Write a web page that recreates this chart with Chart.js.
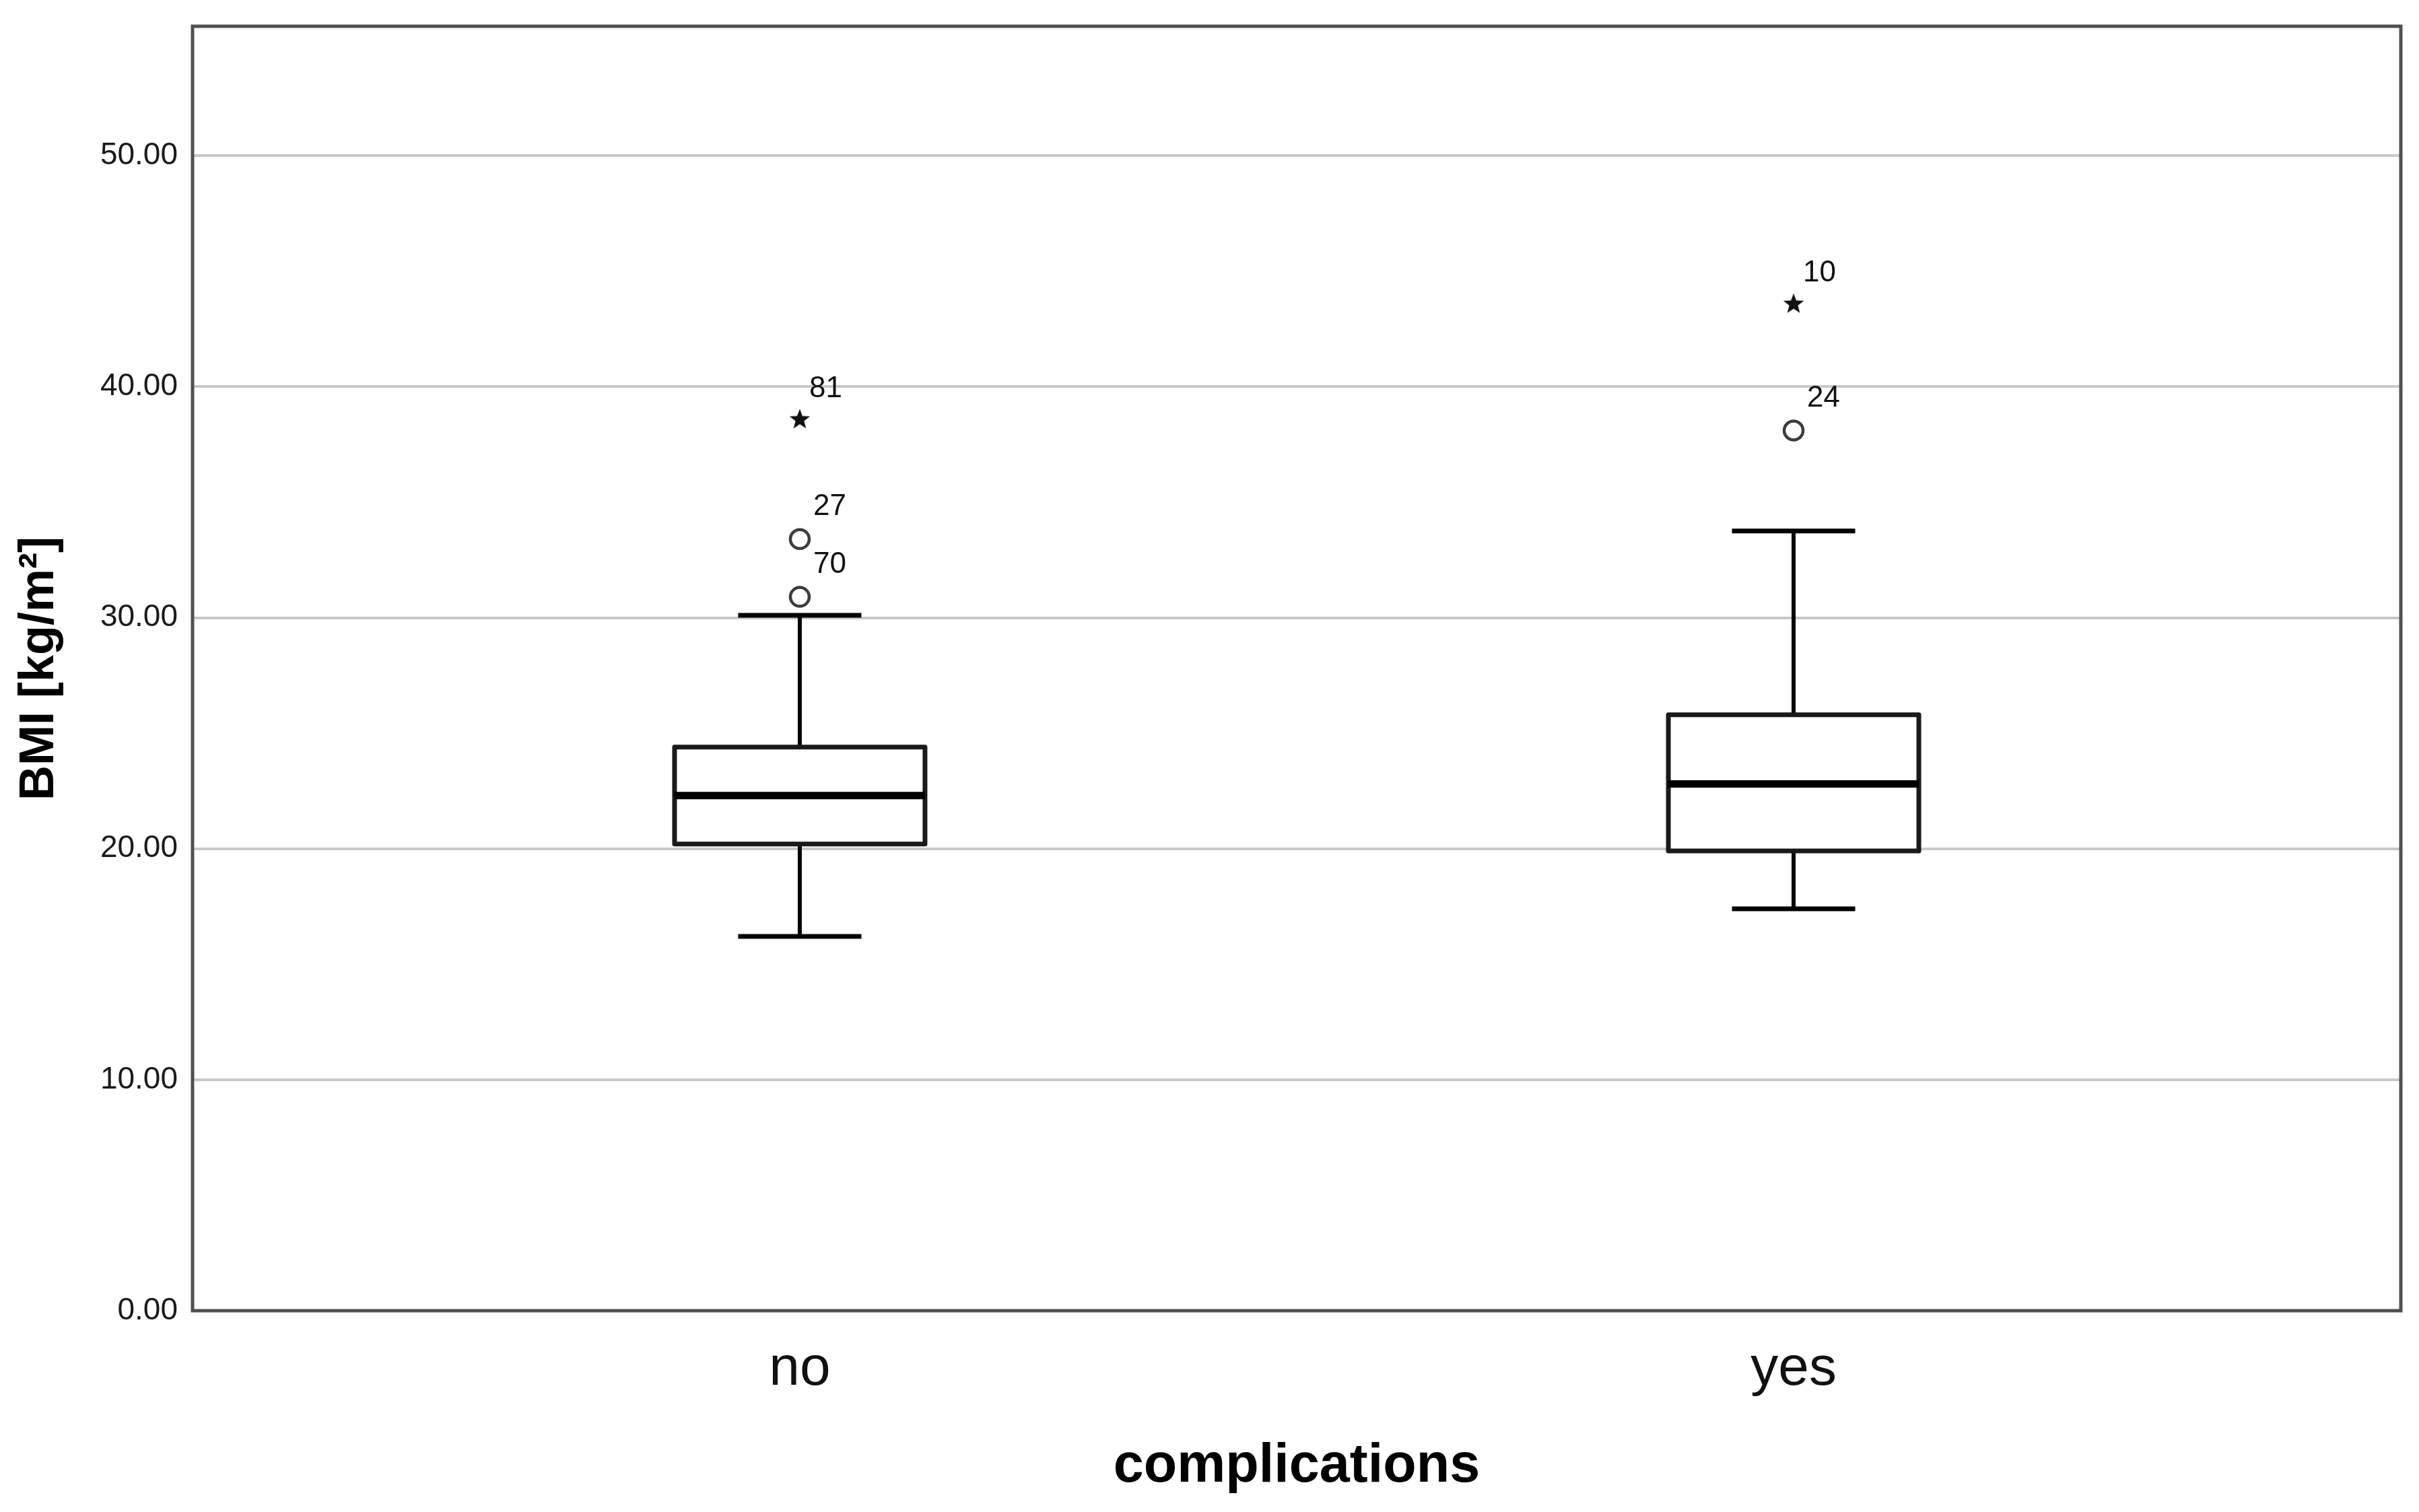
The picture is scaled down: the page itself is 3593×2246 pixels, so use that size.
<!DOCTYPE html>
<html>
<head>
<meta charset="utf-8">
<script src="https://cdn.jsdelivr.net/npm/chart.js@4.4.1/dist/chart.umd.min.js"></script>
<style>
  html, body { margin: 0; padding: 0; background: #fff; }
</style>
</head>
<body>
<canvas id="bmiChart" width="3593" height="2246"></canvas>
<script>
// Groups and box statistics
const categories = ['no', 'yes'];
const whiskerLow = [16.2, 17.4];
const quartile1 = [20.2, 19.9];
const medians = [22.3, 22.8];
const quartile3 = [24.4, 25.8];
const whiskerHigh = [30.1, 33.75];

// Outliers (circles) and extremes (stars) with their case numbers
const outlierGroup = [0, 0, 1];
const outlierValues = [30.9, 33.4, 38.1];
const outlierIds = ['70', '27', '24'];
const extremeGroup = [0, 1];
const extremeValues = [38.6, 43.6];
const extremeIds = ['81', '10'];

// Y axis ticks
const yTicks = [0, 10, 20, 30, 40, 50];
const yTickLabels = ['0.00', '10.00', '20.00', '30.00', '40.00', '50.00'];

const FONT = '"Liberation Sans", Arial, sans-serif';
const BOX_HALF = 0.126;   // half box width, in x units
const CAP_HALF = 0.062;   // half whisker cap width

// filled star for extreme values (SPSS style)
function makeStar(size) {
    const c = document.createElement('canvas');
    c.width = size; c.height = size;
    const g = c.getContext('2d');
    const cx = size / 2, cy = size / 2 + 1, ro = size / 2, ri = ro * 0.42;
    g.beginPath();
    for (let k = 0; k < 10; k++) {
        const r = k % 2 === 0 ? ro : ri;
        const a = -Math.PI / 2 + k * Math.PI / 5;
        g.lineTo(cx + r * Math.cos(a), cy + r * Math.sin(a));
    }
    g.closePath();
    g.fillStyle = '#111';
    g.fill();
    return c;
}
const starImg = makeStar(32);

// box, whiskers and frame drawn through the chart scales
const boxPlotPlugin = {
    id: 'boxPlot',
    beforeDatasetsDraw(chart) {
        const { ctx, chartArea, scales: { x, y } } = chart;
        ctx.save();
        // plot frame
        ctx.strokeStyle = '#505050';
        ctx.lineWidth = 5;
        ctx.strokeRect(chartArea.left, chartArea.top, chartArea.right - chartArea.left, chartArea.bottom - chartArea.top);

        categories.forEach((cat, i) => {
            const cx = x.getPixelForValue(i);
            const bw = x.getPixelForValue(i + BOX_HALF) - cx;
            const cw = x.getPixelForValue(i + CAP_HALF) - cx;
            const yLo = y.getPixelForValue(whiskerLow[i]);
            const yQ1 = y.getPixelForValue(quartile1[i]);
            const yMed = y.getPixelForValue(medians[i]);
            const yQ3 = y.getPixelForValue(quartile3[i]);
            const yHi = y.getPixelForValue(whiskerHigh[i]);

            ctx.strokeStyle = '#000';
            ctx.lineWidth = 6;
            ctx.lineCap = 'butt';
            // whisker stems
            ctx.beginPath();
            ctx.moveTo(cx, yLo); ctx.lineTo(cx, yQ1);
            ctx.moveTo(cx, yQ3); ctx.lineTo(cx, yHi);
            ctx.stroke();
            // caps
            ctx.lineWidth = 7;
            ctx.beginPath();
            ctx.moveTo(cx - cw, yLo); ctx.lineTo(cx + cw, yLo);
            ctx.moveTo(cx - cw, yHi); ctx.lineTo(cx + cw, yHi);
            ctx.stroke();
            // box
            ctx.fillStyle = '#fff';
            ctx.fillRect(cx - bw, yQ3, bw * 2, yQ1 - yQ3);
            ctx.strokeStyle = '#1a1a1a';
            ctx.lineWidth = 7;
            ctx.lineJoin = 'round';
            ctx.strokeRect(cx - bw, yQ3, bw * 2, yQ1 - yQ3);
            // median
            ctx.strokeStyle = '#000';
            ctx.lineWidth = 11;
            ctx.beginPath();
            ctx.moveTo(cx - bw, yMed); ctx.lineTo(cx + bw, yMed);
            ctx.stroke();
        });
        ctx.restore();
    },
    afterDatasetsDraw(chart) {
        const { ctx, scales: { x, y } } = chart;
        ctx.save();
        ctx.fillStyle = '#111';
        ctx.font = '44px ' + FONT;
        ctx.textAlign = 'left';
        ctx.textBaseline = 'middle';
        outlierValues.forEach((v, i) => {
            ctx.fillText(outlierIds[i], x.getPixelForValue(outlierGroup[i]) + 20, y.getPixelForValue(v) - 48);
        });
        extremeValues.forEach((v, i) => {
            ctx.fillText(extremeIds[i], x.getPixelForValue(extremeGroup[i]) + 14, y.getPixelForValue(v) - 45);
        });
        ctx.restore();
    }
};

const ctx = document.getElementById('bmiChart').getContext('2d');
new Chart(ctx, {
    type: 'scatter',
    data: {
        datasets: [
            {
                label: 'outliers',
                data: outlierValues.map((v, i) => ({ x: outlierGroup[i], y: v })),
                pointStyle: 'circle',
                pointRadius: 14,
                borderWidth: 4.5,
                borderColor: '#3c3c3c',
                backgroundColor: '#fff'
            },
            {
                label: 'extremes',
                data: extremeValues.map((v, i) => ({ x: extremeGroup[i], y: v })),
                pointStyle: starImg,
                pointRadius: 16
            }
        ]
    },
    options: {
        responsive: false,
        devicePixelRatio: 1,
        animation: false,
        events: [],
        layout: { padding: { top: 39, right: 27, left: 0, bottom: 0 } },
        plugins: {
            legend: { display: false },
            tooltip: { enabled: false }
        },
        scales: {
            x: {
                type: 'linear',
                min: -0.611,
                max: 1.611,
                grid: { display: false, drawTicks: false },
                border: { display: false },
                afterBuildTicks: (axis) => { axis.ticks = categories.map((c, i) => ({ value: i })); },
                afterFit: (axis) => { axis.height = 299; axis.paddingLeft = 0; axis.paddingRight = 0; },
                ticks: {
                    padding: 38,
                    color: '#111',
                    font: { family: FONT, size: 82 },
                    callback: (v) => categories[v]
                },
                title: {
                    display: true,
                    text: 'complications',
                    color: '#000',
                    font: { family: FONT, size: 81, weight: 'bold' },
                    padding: { top: 0, bottom: 19 }
                }
            },
            y: {
                min: 0,
                max: 55.6,
                grid: { color: '#c8c8c8', lineWidth: 4, drawTicks: false },
                border: { display: false },
                afterBuildTicks: (axis) => { axis.ticks = yTicks.map(v => ({ value: v })); },
                afterFit: (axis) => { axis.width = 286; axis.paddingTop = 0; axis.paddingBottom = 0; },
                ticks: {
                    padding: 22,
                    color: '#1a1a1a',
                    font: { family: FONT, size: 46 },
                    callback: (v) => yTickLabels[yTicks.indexOf(v)]
                },
                title: {
                    display: true,
                    text: 'BMI [kg/m²]',
                    color: '#000',
                    font: { family: FONT, size: 72, weight: 'bold' },
                    padding: { top: 16, bottom: 0 }
                }
            }
        }
    },
    plugins: [boxPlotPlugin]
});
</script>
</body>
</html>
